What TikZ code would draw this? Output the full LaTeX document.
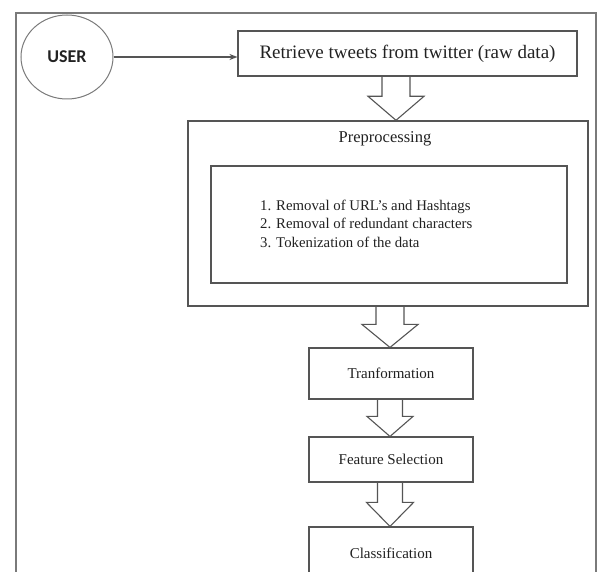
\documentclass[tikz,border=0pt]{standalone}
\usepackage{fontspec}
\setmainfont{Liberation Serif}
\newfontfamily\userfont{Carlito}
\usetikzlibrary{arrows.meta,shapes.geometric,calc}
\definecolor{lineg}{HTML}{555555}
\definecolor{frameg}{HTML}{7A7A7A}
\definecolor{txt}{HTML}{222222}
\newcommand{\holarrow}[6]{%
  \draw[hollowarrow] let \p1=(#1.south), \p2=(#2.north) in
   ({#3pt-#4pt},\y1) -- ({#3pt-#4pt},{\y2+#6pt}) -- ({#3pt-#5pt},{\y2+#6pt})
   -- (#3pt,\y2) -- ({#3pt+#5pt},{\y2+#6pt}) -- ({#3pt+#4pt},{\y2+#6pt})
   -- ({#3pt+#4pt},\y1);}
\begin{document}
\begin{tikzpicture}[x=1pt,y=1pt,
  boxnode/.style={draw=lineg,line width=1.1pt,rectangle,inner sep=0pt,text=txt},
  hollowarrow/.style={draw=lineg,line width=1.1pt,line join=miter},
  conn/.style={draw=lineg,line width=1.3pt,-{Stealth[length=8pt,width=6pt]}}]
\useasboundingbox (0,0) rectangle (598,-572);
\clip (0,0) rectangle (598,-572);
\fill[white] (0,0) rectangle (598,-572);
% outer frame
\node[draw=frameg,line width=1.4pt,rectangle,inner sep=0pt,minimum width=580pt,minimum height=600pt] (frame) at (306,-313) {};
% user
\node[draw=frameg,line width=1pt,ellipse,minimum width=92pt,minimum height=84pt,inner sep=0pt,text=txt,font=\userfont\bfseries\fontsize{18}{20}\selectfont] (user) at (67,-57) {USER};
% retrieve
\node[boxnode,minimum width=339pt,minimum height=45pt,font=\fontsize{19}{22}\selectfont] (retr) at (407.5,-53.5) {Retrieve tweets from twitter (raw data)};
% preprocessing
\node[boxnode,line width=1.4pt,minimum width=400pt,minimum height=185pt] (pre) at (388,-213.5) {};
\node[text=txt,font=\fontsize{16.5}{19}\selectfont,inner sep=0pt] (pretitle) at (385,-139) {Preprocessing};
\node[boxnode,minimum width=356pt,minimum height=117pt] (inner) at (389,-224.5) {};
\node[text=txt,align=left,anchor=west,inner sep=0pt,font=\fontsize{14.8}{18.5}\selectfont] (steps) at (260,-223.5)
  {1. Removal of URL's and Hashtags\\2. Removal of redundant characters\\3. Tokenization of the data};
% lower boxes
\node[boxnode,minimum width=164pt,minimum height=51pt,font=\fontsize{15}{18}\selectfont] (trans) at (391,-373.5) {Tranformation};
\node[boxnode,minimum width=164pt,minimum height=45pt,font=\fontsize{15}{18}\selectfont] (feat) at (391,-459.5) {Feature Selection};
\node[boxnode,minimum width=164pt,minimum height=52pt,font=\fontsize{15}{18}\selectfont] (clas) at (391,-553) {Classification};
% connectors
\draw[conn] (user.east) -- (user.east -| retr.west);
\holarrow{retr}{pre}{396}{14}{28}{24}
\holarrow{pre}{trans}{390}{14}{28}{23}
\holarrow{trans}{feat}{390}{12.5}{23}{20}
\holarrow{feat}{clas}{390}{12.5}{23.5}{24}
\end{tikzpicture}
\end{document}
